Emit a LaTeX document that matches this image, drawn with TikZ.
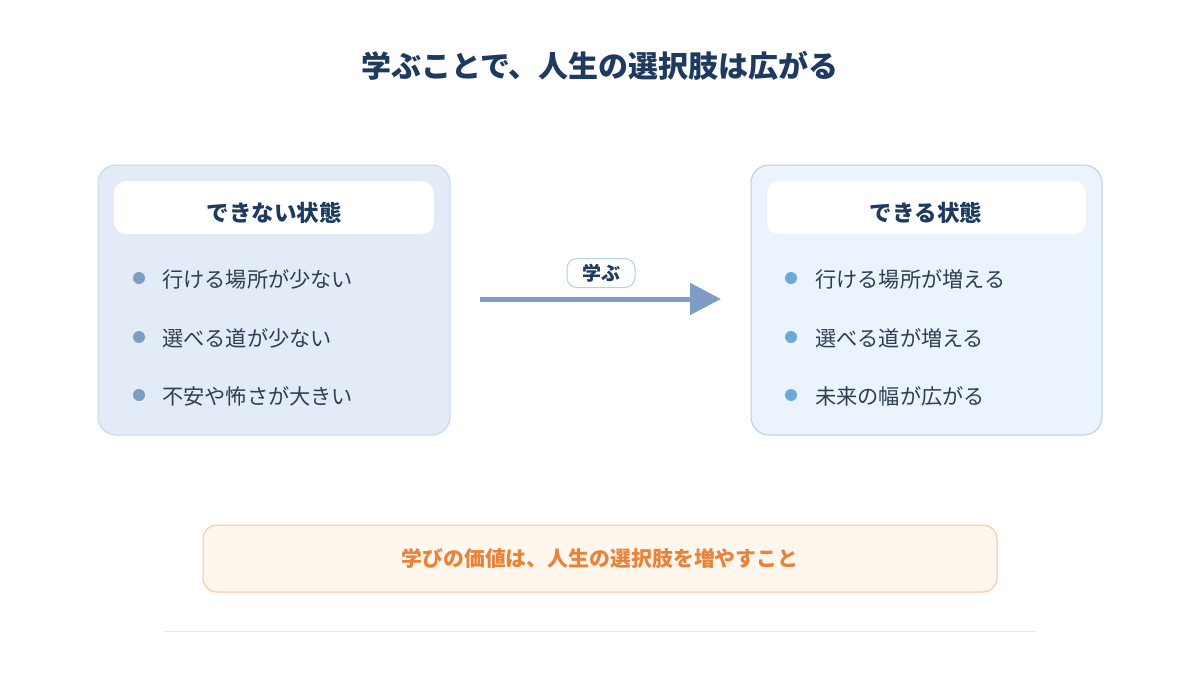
\documentclass[tikz,border=0pt]{standalone}
\usepackage{fontspec}
\setmainfont{Noto Sans CJK JP}
\usetikzlibrary{arrows.meta}
\definecolor{navy}{HTML}{1F3A5F}
\definecolor{txt}{HTML}{2D3E55}
\definecolor{lfill}{HTML}{E2EBF6}
\definecolor{ldraw}{HTML}{C8D8EE}
\definecolor{rfill}{HTML}{EBF3FC}
\definecolor{rdraw}{HTML}{B3CFEB}
\definecolor{ldot}{HTML}{7F9CC4}
\definecolor{rdot}{HTML}{6AAAD9}
\definecolor{arrowc}{HTML}{7F9CC4}
\definecolor{ofill}{HTML}{FFF6ED}
\definecolor{odraw}{HTML}{F5C49A}
\definecolor{otxt}{HTML}{E8843A}
\definecolor{rule}{HTML}{E5E7EB}
\tikzset{
  panel/.style={rounded corners=18pt, line width=1pt},
  header/.style={rounded corners=12pt, fill=white, draw=none},
  headtext/.style={font=\fontsize{22.5}{26}\selectfont\bfseries, text=navy},
  item/.style={font=\fontsize{21.2}{25}\selectfont, text=txt, anchor=west, inner sep=0pt},
  dot/.style={circle, minimum size=12pt, inner sep=0pt, draw=none},
}
\begin{document}
\begin{tikzpicture}[x=1pt,y=-1pt]
\useasboundingbox (0,0) rectangle (1200,675);
\fill[white] (0,0) rectangle (1200,675);
% title
\node[font=\fontsize{30}{35}\selectfont\bfseries, text=navy] (title) at (600,66) {学ぶことで、人生の選択肢は広がる};
% left panel
\draw[panel, fill=lfill, draw=ldraw] (98,165) rectangle (450,435);
\fill[header] (114,181) rectangle (434,234);
\node[headtext] (lhead) at (274,213) {できない状態};
\node[dot, fill=ldot] (ld1) at (139,278) {};
\node[dot, fill=ldot] (ld2) at (139,337) {};
\node[dot, fill=ldot] (ld3) at (139,395) {};
\node[item] (lt1) at (162,279) {行ける場所が少ない};
\node[item] (lt2) at (162,338) {選べる道が少ない};
\node[item] (lt3) at (162,396) {不安や怖さが大きい};
% right panel
\draw[panel, fill=rfill, draw=rdraw] (751,165) rectangle (1102,435);
\fill[header] (767,181) rectangle (1086,234);
\node[headtext] (rhead) at (926,213) {できる状態};
\node[dot, fill=rdot] (rd1) at (791,278) {};
\node[dot, fill=rdot] (rd2) at (791,337) {};
\node[dot, fill=rdot] (rd3) at (791,395) {};
\node[item] (rt1) at (815,279) {行ける場所が増える};
\node[item] (rt2) at (815,338) {選べる道が増える};
\node[item] (rt3) at (815,396) {未来の幅が広がる};
% arrow
\coordinate (as) at (480,299);
\coordinate (ae) at (721,299);
\draw[arrowc, line width=5pt, -{Triangle[length=31pt,width=31pt]}] (as) -- (ae);
\node[draw=rdraw, fill=white, rounded corners=10pt, line width=1pt, minimum width=68pt, minimum height=29pt, inner sep=0pt, font=\fontsize{19}{22}\selectfont\bfseries, text=navy] (learn) at (601,273) {学ぶ};
% bottom
\node[draw=odraw, fill=ofill, rounded corners=14pt, line width=1pt, minimum width=794pt, minimum height=67pt, inner sep=0pt, font=\fontsize{20.9}{24}\selectfont\bfseries, text=otxt] (concl) at (600,558.5) {学びの価値は、人生の選択肢を増やすこと};
\coordinate (r1) at (165,631);
\coordinate (r2) at (1035,631);
\draw[rule, line width=1pt] (r1) -- (r2);
\end{tikzpicture}
\end{document}
